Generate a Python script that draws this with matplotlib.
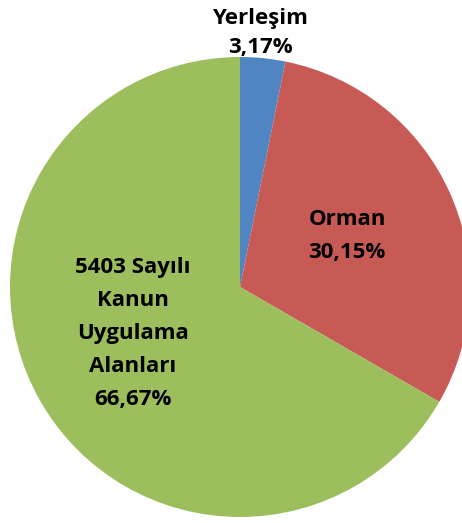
import matplotlib.pyplot as plt

names = ['Yerleşim', 'Orman', '5403 Sayılı\nKanun\nUygulama\nAlanları']
values = [3.17, 30.15, 66.67]
colors = ['#4F85C3', '#C85A56', '#9DBE5C']

fig = plt.figure(figsize=(4.62, 5.23), dpi=100)
ax = fig.add_axes([0, 0, 1, 1])

ax.pie(values, colors=colors, startangle=90, counterclock=False,
       center=(240, 236), radius=230, frame=True,
       wedgeprops=dict(linewidth=0))
ax.set_xlim(0, 462)
ax.set_ylim(0, 523)
ax.set_aspect('equal')
ax.axis('off')

# label positions (pixel coords, y up), line spacing per label
pos = [(260, 490), (347, 287), (133, 190)]
spacing = [1.55, 1.75, 1.75]
for n, v, (x, y), ls in zip(names, values, pos, spacing):
    txt = n + '\n' + ('%.2f' % v).replace('.', ',') + '%'
    ax.text(x, y, txt, ha='center', va='center', fontsize=16,
            fontweight='bold', family='Open Sans', linespacing=ls)

plt.savefig('out.png', dpi=100)
